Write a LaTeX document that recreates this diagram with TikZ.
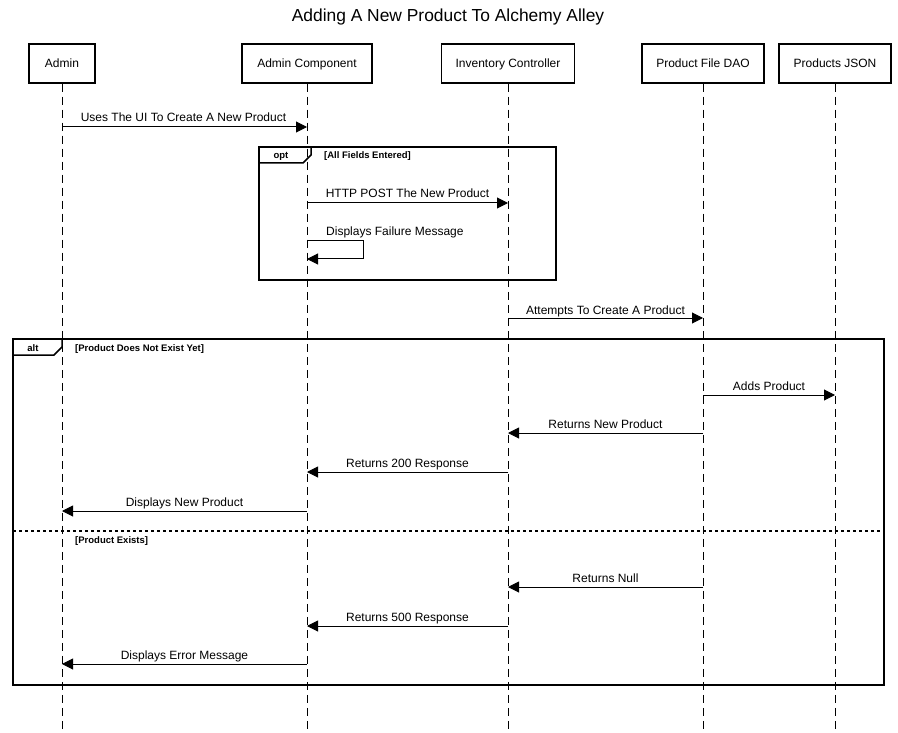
\documentclass[tikz,border=0pt]{standalone}
\usepackage{fontspec}
\setmainfont{Liberation Sans}
\usetikzlibrary{arrows.meta}
\begin{document}
\begin{tikzpicture}[x=1pt,y=-1pt,
 part/.style={draw, line width=1.5pt, minimum height=39pt, font=\fontsize{12}{14}\selectfont, inner sep=0pt, text height=8.6pt, text depth=0pt},
 life/.style={line width=1pt, dash pattern=on 8pt off 5pt},
 msg/.style={line width=1pt, -{Triangle[length=11pt,width=11pt]}},
 lbl/.style={font=\fontsize{12}{14}\selectfont, inner sep=0pt, anchor=base},
 fbox/.style={draw, line width=1.5pt},
 flbl/.style={font=\bfseries\fontsize{9.5}{11}\selectfont, inner sep=0pt, anchor=base west},
 ftag/.style={font=\bfseries\fontsize{9.5}{11}\selectfont, inner sep=0pt, anchor=base}]
\fill[white] (0,0) rectangle (898,733);
\useasboundingbox (0,0) rectangle (898,733);
% title
\node[font=\fontsize{17.4}{20}\selectfont, inner sep=0pt, anchor=base] (title) at (448,22) {Adding A New Product To Alchemy Alley};
% participants
\node[part, minimum width=66pt] (admin) at (62,63.5) {Admin};
\node[part, minimum width=130pt] (ac) at (307,63.5) {Admin Component};
\node[part, minimum width=133pt] (ic) at (508,63.5) {Inventory Controller};
\node[part, minimum width=122pt] (dao) at (703,63.5) {Product File DAO};
\node[part, minimum width=112pt] (json) at (835,63.5) {Products JSON};
% lifeline ends
\coordinate (adminE) at (admin |- 0,733);
\coordinate (acE) at (ac |- 0,733);
\coordinate (icE) at (ic |- 0,733);
\coordinate (daoE) at (dao |- 0,733);
\coordinate (jsonE) at (json |- 0,733);
\draw[life] (admin.south) -- (adminE);
\draw[life] (ac.south) -- (acE);
\draw[life] (ic.south) -- (icE);
\draw[life] (dao.south) -- (daoE);
\draw[life] (json.south) -- (jsonE);
% message 1
\draw[msg] (admin |- 0,127) -- (ac |- 0,127);
\node[lbl] (m1) at (183.5,122) {Uses The UI To Create A New Product};
% opt frame
\draw[fbox] (259,147) rectangle (556,280);
\draw[line width=1.5pt] (259,163) -- (303,163) -- (311,155) -- (311,147);
\node[ftag] (optt) at (281,159) {opt};
\node[flbl] (optc) at (324,159) {[All Fields Entered]};
\draw[msg] (ac |- 0,203) -- (ic |- 0,203);
\node[lbl] (m2) at (407.5,198) {HTTP POST The New Product};
\draw[msg] (ac |- 0,241) -- (363,241) -- (363,259) -- (ac |- 0,259);
\node[lbl, anchor=base west] (m3) at (326,236) {Displays Failure Message};
% attempts
\draw[msg] (ic |- 0,318) -- (dao |- 0,318);
\node[lbl] (m4) at (605.5,314) {Attempts To Create A Product};
% alt frame
\draw[fbox] (13,339) rectangle (884,685);
\draw[line width=1.5pt] (13,355) -- (54,355) -- (62,347) -- (62,339);
\node[ftag] (altt) at (33,351) {alt};
\node[flbl] (altc1) at (75,351) {[Product Does Not Exist Yet]};
\draw[msg] (dao |- 0,395) -- (json |- 0,395);
\node[lbl] (m5) at (769,390) {Adds Product};
\draw[msg] (dao |- 0,433) -- (ic |- 0,433);
\node[lbl] (m6) at (605.5,428) {Returns New Product};
\draw[msg] (ic |- 0,472) -- (ac |- 0,472);
\node[lbl] (m7) at (407.5,467) {Returns 200 Response};
\draw[msg] (ac |- 0,511) -- (admin |- 0,511);
\node[lbl] (m8) at (184.5,506) {Displays New Product};
% separator
\draw[line width=1.2pt, dash pattern=on 3pt off 3pt] (13,531) -- (884,531);
\node[flbl] (altc2) at (75,543) {[Product Exists]};
\draw[msg] (dao |- 0,587) -- (ic |- 0,587);
\node[lbl] (m9) at (605.5,582) {Returns Null};
\draw[msg] (ic |- 0,626) -- (ac |- 0,626);
\node[lbl] (m10) at (407.5,621) {Returns 500 Response};
\draw[msg] (ac |- 0,664) -- (admin |- 0,664);
\node[lbl] (m11) at (184.5,659) {Displays Error Message};
\end{tikzpicture}
\end{document}
